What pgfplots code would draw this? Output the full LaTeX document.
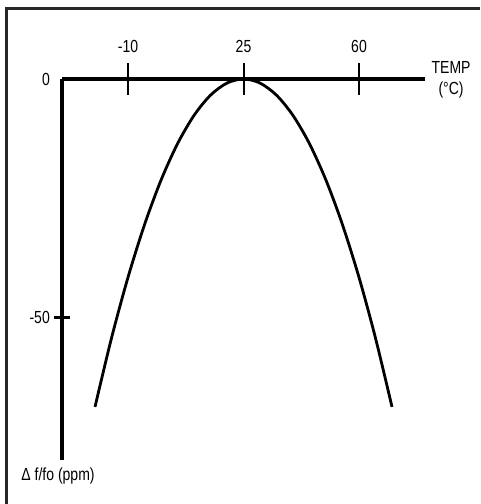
\documentclass[border=0pt]{standalone}
\usepackage{fontspec}
\setmainfont{Liberation Sans}[FakeStretch=0.8]
\usepackage{pgfplots}
\pgfplotsset{compat=1.18}
\newcommand{\lbl}{\fontsize{17.5}{21}\selectfont}
\begin{document}
\begin{tikzpicture}
\path[use as bounding box] (0pt,0pt) rectangle (480pt,504pt);
\draw[line width=2.5pt, black!85] (6.5pt,0pt) -- (6.5pt,495.5pt) -- (480pt,495.5pt);
% x axis with its ticks
\begin{axis}[
  at={(62pt,44pt)}, anchor=south west, scale only axis,
  width=363pt, height=381pt,
  xmin=-30, xmax=80, ymin=-80, ymax=0,
  axis x line*=top, axis y line*=left,
  y axis line style={draw=none},
  x axis line style={line width=3.5pt, -},
  xtick={-10,25,60}, xticklabels={-10,25,60},
  ytick=\empty,
  major tick length=32pt, tick align=center,
  xtick style={line width=2pt, black},
  xticklabel style={font=\lbl, anchor=base, inner sep=0pt, yshift=11pt},
]
\end{axis}
% y axis, curve and labels
\begin{axis}[
  at={(62pt,44pt)}, anchor=south west, scale only axis,
  width=363pt, height=381pt,
  xmin=-30, xmax=80, ymin=-80, ymax=0,
  axis x line*=top, axis y line*=left,
  x axis line style={draw=none},
  y axis line style={line width=3.5pt, -},
  xtick=\empty,
  ytick={-50}, yticklabels={-50},
  extra y ticks={0}, extra y tick labels={0},
  extra y tick style={ytick style={draw=none}},
  major tick length=16pt, tick align=center,
  ytick style={line width=3pt, black},
  yticklabel style={font=\lbl, anchor=east, inner sep=0pt, xshift=-4pt},
  clip=false,
]
\addplot[black, line width=2.8pt, smooth] coordinates {
(-20,-68.85) (-15,-54.4) (-10,-41.65) (-5,-30.6) (0,-21.25) (5,-13.6)
(10,-7.65) (15,-3.4) (20,-0.85) (25,0) (30,-0.85) (35,-3.4) (40,-7.65)
(45,-13.6) (50,-21.25) (55,-30.6) (60,-41.65) (65,-54.4) (70,-68.85)
};
\node[font=\lbl, align=center, inner sep=0pt] at (axis cs:87.9,-0.1) {TEMP\\(°C)};
\node[font=\lbl, inner sep=0pt] at (axis cs:-31.2,-83.4) {Δ f/fo (ppm)};
\end{axis}
\end{tikzpicture}
\end{document}
